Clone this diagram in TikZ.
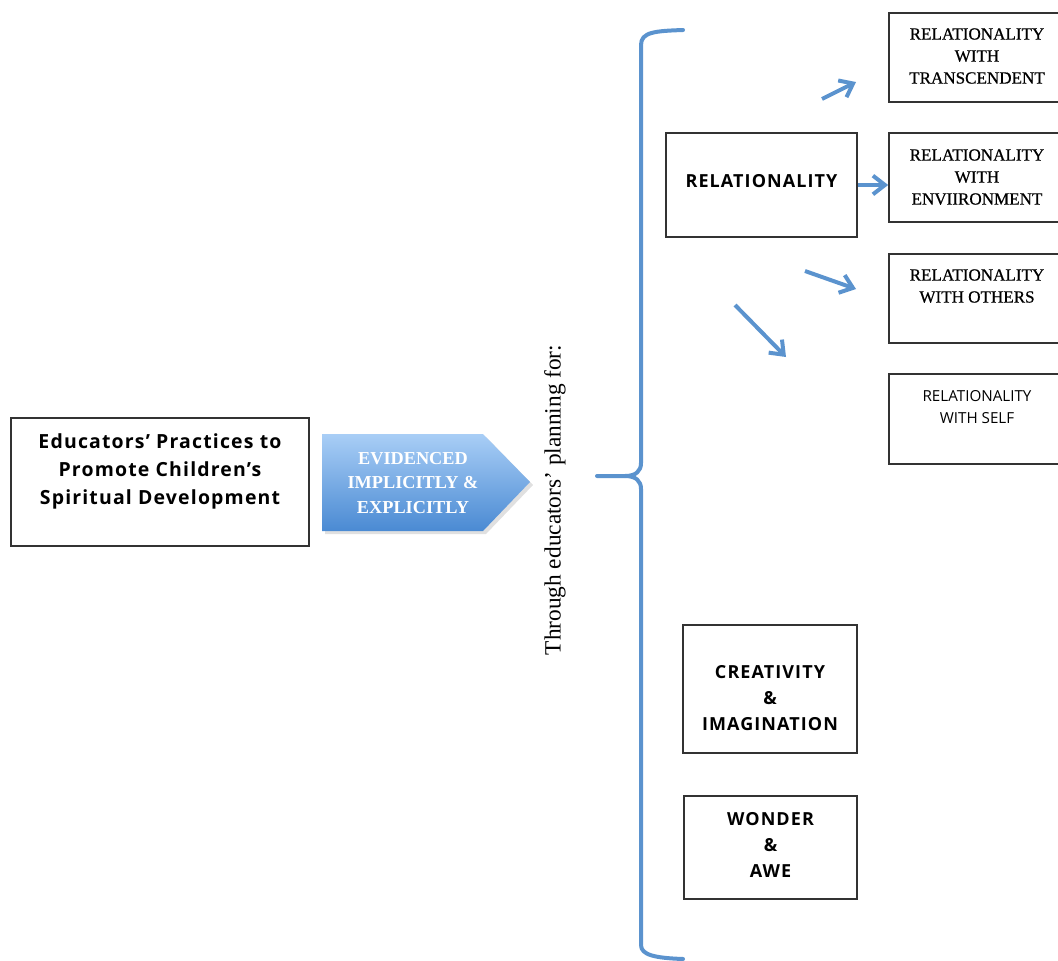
\documentclass[tikz,border=0pt]{standalone}
\usepackage{fontspec}
\setmainfont{Liberation Serif}
\setsansfont{Open Sans}[LetterSpace=6]
\newfontfamily\facetfont{Liberation Serif}[FakeBold=0.6]
\newfontfamily\selffont{Open Sans}
\usetikzlibrary{arrows.meta,shadows}
\definecolor{linkblue}{HTML}{5B93CE}
\definecolor{pilltop}{HTML}{A9CEF6}
\definecolor{pillbot}{HTML}{4A8AD3}
\tikzset{
  plainbox/.style={draw=black!80, line width=1.2pt, fill=white, inner sep=0pt},
  boldlabel/.style={font=\sffamily\bfseries\fontsize{13.5}{19.5}\selectfont, align=center, inner sep=0pt},
  serlabel/.style={font=\facetfont\fontsize{12.8}{16.5}\selectfont, align=center, inner sep=0pt, anchor=north},
  link/.style={draw=linkblue, line width=3pt, -{Straight Barb[length=9pt,width=14pt,line width=3pt]}},
}
\begin{document}
\begin{tikzpicture}[x=0.75pt,y=-0.75pt]
\useasboundingbox (0,0) rectangle (1058,961);

% source box
\node[plainbox, minimum width=298*0.75pt, minimum height=128*0.75pt] (src) at (160,482) {};
\node[boldlabel, font=\sffamily\bfseries\fontsize{14.6}{21}\selectfont] (srctext) at (160,471)
  {Educators’ Practices to\\Promote Children’s\\Spiritual Development};

% shaded pointer with a soft shadow
\fill[black!12] (325,437) -- (486,437) -- (533,485) -- (486,534) -- (325,534) -- cycle;
\shade[top color=pilltop, bottom color=pillbot] (322,434) -- (483,434) -- (530,482) -- (483,531) -- (322,531) -- cycle;
\node[font=\rmfamily\bfseries\fontsize{13.7}{18.5}\selectfont, text=white, align=center] (evid) at (413,483)
  {EVIDENCED\\IMPLICITLY \&\\EXPLICITLY};

% rotated caption
\node[rotate=90, font=\rmfamily\fontsize{17.5}{20}\selectfont] (through) at (555,500) {Through educators’ planning for:};

% brace
\draw[linkblue, line width=3pt, line cap=round, line join=round]
  (683,30) .. controls (655,31) and (641,32) .. (641,45) -- (641,463)
  .. controls (641,471) and (636,476) .. (625,476) -- (597,476);
\draw[linkblue, line width=3pt, line cap=round, line join=round]
  (625,476) .. controls (636,476) and (641,481) .. (641,489) -- (641,945)
  .. controls (641,955) and (655,958) .. (683,959);

% main themes
\node[plainbox, minimum width=191*0.75pt, minimum height=104*0.75pt] (rel) at (761.5,185) {};
\node[boldlabel] (reltext) at (761.5,181) {RELATIONALITY};
\node[plainbox, minimum width=174*0.75pt, minimum height=128*0.75pt] (cre) at (770,689) {};
\node[boldlabel] (cretext) at (770,698) {CREATIVITY\\\&\\IMAGINATION};
\node[plainbox, minimum width=173*0.75pt, minimum height=103*0.75pt] (won) at (770.5,847.5) {};
\node[boldlabel] (wontext) at (770.5,845) {WONDER\\\&\\AWE};

% relationality facets
\node[plainbox, minimum width=176*0.75pt, minimum height=89*0.75pt] (t1) at (977,57.5) {};
\node[serlabel] (t1text) at (977,28) {RELATIONALITY\\WITH\\TRANSCENDENT};
\node[plainbox, minimum width=176*0.75pt, minimum height=89*0.75pt] (t2) at (977,177.5) {};
\node[serlabel] (t2text) at (977,149) {RELATIONALITY\\WITH\\ENVIIRONMENT};
\node[plainbox, minimum width=176*0.75pt, minimum height=89*0.75pt] (t3) at (977,298.5) {};
\node[serlabel] (t3text) at (977,269) {RELATIONALITY\\WITH OTHERS};
\node[plainbox, minimum width=176*0.75pt, minimum height=90*0.75pt] (t4) at (977,419) {};
\node[serlabel, font=\selffont\fontsize{11.4}{16.5}\selectfont] (t4text) at (977,390) {RELATIONALITY\\WITH SELF};

% links
\coordinate (a1s) at (822,99);
\coordinate (a1e) at (856,82);
\coordinate (a3s) at (805,271);
\coordinate (a3e) at (856,289);
\coordinate (a4s) at (735,305);
\coordinate (a4e) at (786,357);
\draw[link] (a1s) -- (a1e);
\draw[link] (rel.east) -- (t2.west |- rel.east);
\draw[link] (a3s) -- (a3e);
\draw[link] (a4s) -- (a4e);
\end{tikzpicture}
\end{document}
